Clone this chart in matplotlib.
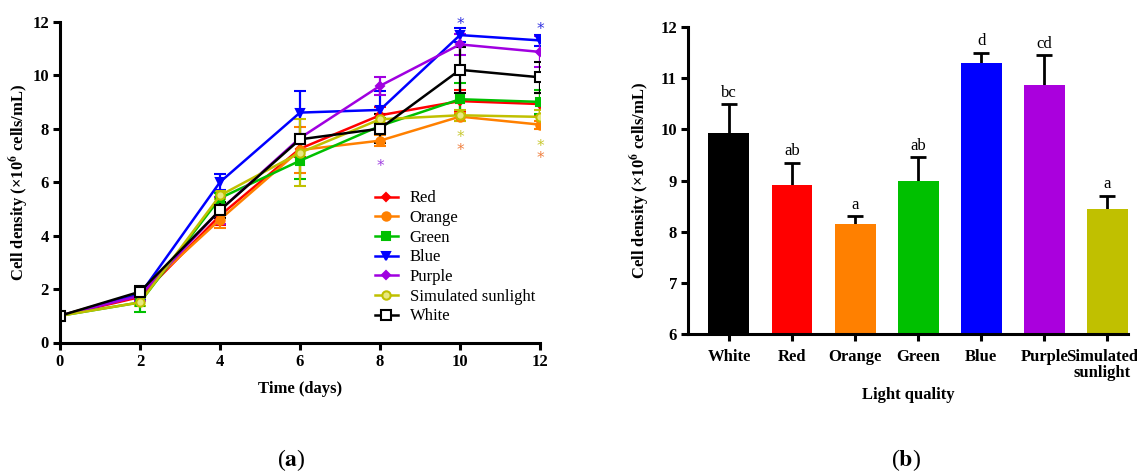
import matplotlib
matplotlib.use("Agg")
import matplotlib.pyplot as plt
import matplotlib.transforms as mtransforms
from matplotlib.lines import Line2D

plt.rcParams['font.family'] = ['Liberation Serif', 'DejaVu Serif']
plt.rcParams['mathtext.fontset'] = 'stix'

# panel (a): growth curves
days = [0, 2, 4, 6, 8, 10, 12]
series = ['Red', 'Orange', 'Green', 'Blue', 'Purple', 'Simulated sunlight', 'White']
red = [1.0, 1.7, 4.75, 7.25, 8.5, 9.03, 8.92]
orange = [1.0, 1.85, 4.6, 7.2, 7.55, 8.45, 8.15]
green = [1.0, 1.5, 5.4, 6.8, 8.1, 9.1, 9.0]
blue = [1.0, 1.8, 6.0, 8.6, 8.7, 11.5, 11.3]
purple = [1.0, 1.75, 4.95, 7.65, 9.6, 11.15, 10.87]
sim = [1.0, 1.5, 5.5, 7.1, 8.35, 8.5, 8.44]
white = [1.0, 1.9, 4.95, 7.6, 8.0, 10.2, 9.92]

red_err = [0.02, 0.1, 0.35, 0.3, 0.3, 0.4, 0.43]
orange_err = [0.02, 0.15, 0.3, 0.85, 0.2, 0.15, 0.15]
green_err = [0.02, 0.35, 0.2, 0.7, 0.3, 0.6, 0.45]
blue_err = [0.02, 0.2, 0.3, 0.8, 0.7, 0.25, 0.2]
purple_err = [0.02, 0.2, 0.5, 0.1, 0.35, 0.4, 0.58]
sim_err = [0.02, 0.15, 0.15, 1.25, 0.2, 0.2, 0.26]
white_err = [0.02, 0.2, 0.3, 0.1, 0.55, 0.85, 0.57]

# significance stars: day, y, colour
star_x = [10, 12, 10, 10, 12, 12, 8]
star_y = [11.9, 11.7, 7.65, 7.2, 7.35, 6.9, 6.6]
star_c = ['#3030e0', '#3030e0', '#c8c830', '#f08040', '#c8c830', '#f08040', '#a040e0']

# panel (b): day 12 bars
bar_labels = ['White', 'Red', 'Orange', 'Green', 'Blue', 'Purple', 'Simulated\nsunlight']
bar_vals = [9.92, 8.92, 8.15, 9.0, 11.3, 10.87, 8.44]
bar_err = [0.57, 0.43, 0.15, 0.45, 0.2, 0.58, 0.26]
bar_letters = ['bc', 'ab', 'a', 'ab', 'd', 'cd', 'a']

line_colors = ['#ff0000', '#ff8000', '#00c000', '#0000ff', '#a000e0', '#c0c000', '#000000']
bar_colors = ['#000000', '#ff0000', '#ff8000', '#00c000', '#0000ff', '#aa00dd', '#c0c000']
markers = ['D', 'o', 's', 'v', 'D', 'o', 's']
msizes = [4.5, 6, 6, 6, 4.5, 6, 7]

W, H = 1137, 473
fig = plt.figure(figsize=(W / 100, H / 100), dpi=100)

ax1 = fig.add_axes([60 / W, (H - 342.5) / H, 480 / W, 320.8 / H])
ax2 = fig.add_axes([688 / W, (H - 334) / H, 440 / W, 307 / H])

all_vals = [red, orange, green, blue, purple, sim, white]
all_err = [red_err, orange_err, green_err, blue_err, purple_err, sim_err, white_err]
handles = []
for name, v, e, c, m, ms in zip(series, all_vals, all_err, line_colors, markers, msizes):
    face = 'white' if name == 'White' else c
    if name == 'Simulated sunlight':
        face = '#e8e880'
    ax1.errorbar(days, v, yerr=e, color=c, marker=m, markersize=ms,
                 markerfacecolor=face, markeredgecolor=c, markeredgewidth=1.5,
                 linewidth=1.8, capsize=4, elinewidth=1.6, capthick=1.6)
    handles.append(Line2D([], [], color=c, marker=m, markersize=ms, linewidth=1.8,
                          markerfacecolor=face, markeredgecolor=c,
                          markeredgewidth=1.5, label=name))

for x, y, c in zip(star_x, star_y, star_c):
    ax1.text(x, y, '*', color=c, ha='center', va='center', fontsize=11,
             family='DejaVu Sans')

ax1.set_xlim(0, 12)
ax1.set_ylim(0, 12)
ax1.set_xticks(days)
ax1.set_yticks([0, 2, 4, 6, 8, 10, 12])
ax1.set_xlabel('Time (days)', fontsize=12, fontweight='bold', labelpad=8)
ax1.set_ylabel(r'Cell density (×10$^{\mathbf{6}}$ cells/mL)', fontsize=12,
               fontweight='bold', labelpad=1)
ax1.legend(handles=handles, loc='upper left', bbox_to_anchor=(0.642, 0.495),
           frameon=False, fontsize=12, labelspacing=0.22, handlelength=1.4,
           handletextpad=0.7, borderaxespad=0)

ax2.bar(range(len(bar_vals)), bar_vals, width=0.65, color=bar_colors, zorder=2)
ax2.errorbar(range(len(bar_vals)), bar_vals, yerr=bar_err,
             fmt='none', ecolor='black', elinewidth=2, capsize=6, capthick=2, zorder=1)
for i, (v, e, t) in enumerate(zip(bar_vals, bar_err, bar_letters)):
    ax2.text(i, v + e + 0.07, t, ha='center', va='bottom', fontsize=12)
ax2.set_xlim(-0.65, 6.33)
ax2.set_ylim(6, 12)
ax2.set_xticks(range(len(bar_labels)))
ax2.set_xticklabels(bar_labels, fontsize=12, fontweight='bold', linespacing=1.0)
ax2.set_yticks([6, 7, 8, 9, 10, 11, 12])
ax2.set_xlabel('Light quality', fontsize=12, fontweight='bold', labelpad=4)
ax2.set_ylabel(r'Cell density (×10$^{\mathbf{6}}$ cells/mL)', fontsize=12,
               fontweight='bold', labelpad=6)

for ax in (ax1, ax2):
    for s in ('top', 'right'):
        ax.spines[s].set_visible(False)
    for s in ('left', 'bottom'):
        ax.spines[s].set_linewidth(2.2)
    ax.tick_params(width=2.2, length=5, direction='out', labelsize=12, pad=3)
    for lab in ax.get_yticklabels():
        lab.set_fontweight('bold')
    if ax is ax1:
        for lab in ax.get_xticklabels():
            lab.set_fontweight('bold')
ax2.tick_params(axis='x', pad=6)

# nudge the last (two-line) label left so it stays inside the figure
last = ax2.get_xticklabels()[-1]
last.set_transform(last.get_transform() +
                   mtransforms.ScaledTranslation(-4 / 72, 0, fig.dpi_scale_trans))

fig.text(291 / W, 1 - 460 / H, r'($\mathbf{a}$)', ha='center', va='center', fontsize=17)
fig.text(906 / W, 1 - 460 / H, r'($\mathbf{b}$)', ha='center', va='center', fontsize=17)

fig.savefig('out.png', dpi=100)
